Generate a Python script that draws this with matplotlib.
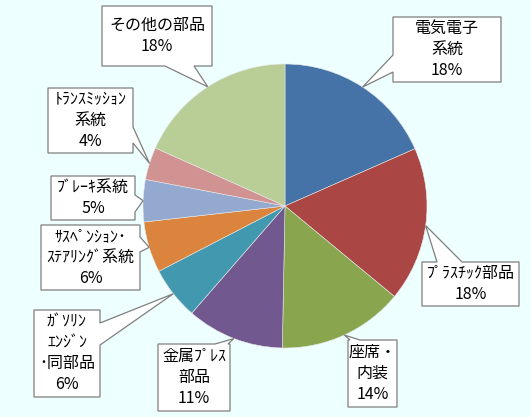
import numpy as np
import matplotlib.pyplot as plt
from matplotlib.patches import Polygon

plt.rcParams['font.family'] = ['Noto Sans CJK JP', 'DejaVu Sans']

# data
labels = ['電気電子\n系統', 'ﾌﾟﾗｽﾁｯｸ部品', '座席・\n内装', '金属ﾌﾟﾚｽ\n部品',
          'ｶﾞｿﾘﾝ\nｴﾝｼﾞﾝ\n･同部品', 'ｻｽﾍﾟﾝｼｮﾝ･\nｽﾃｱﾘﾝｸﾞ系統', 'ﾌﾞﾚｰｷ系統',
          'ﾄﾗﾝｽﾐｯｼｮﾝ\n系統', 'その他の部品']
shares = [18.4, 17.6, 14.3, 11.1, 6.0, 5.8, 4.8, 3.7, 18.3]
colors = ['#4572A7', '#AA4643', '#89A54E', '#71588F', '#4198AF',
          '#DB843D', '#93A9CF', '#D19392', '#B9CD96']

W, H = 531, 417
bg = '#EEFFFF'

# callout boxes in pixel coords (x0, y0, x1, y1), side of pointer, base span
boxes = [
    ((393, 17, 501, 82), 'left', (55, 72)),
    ((422, 262, 519, 306), 'top', (437, 462)),
    ((348, 340, 397, 407), 'top', (350, 360)),
    ((158, 344, 230, 411), 'top', (215, 228)),
    ((34, 310, 100, 397), 'right', (323, 345)),
    ((41, 225, 140, 290), 'right', (237, 252)),
    ((51, 176, 135, 220), 'right', (195, 212)),
    ((48, 88, 133, 153), 'right', (127, 143)),
    ((102, 6, 212, 66), 'bottom', (165, 194)),
]

fig = plt.figure(figsize=(W / 100, H / 100), dpi=100, facecolor=bg)
ax = fig.add_axes([0, 0, 1, 1])

cx, cy, r = 285, H - 206, 142
wedges, _ = ax.pie(shares, colors=colors, startangle=90, counterclock=False,
                   center=(cx, cy), radius=r, frame=True,
                   wedgeprops=dict(edgecolor='#E8E8E8', linewidth=0.4))
ax.set_xlim(0, W)
ax.set_ylim(0, H)
ax.set_aspect('equal')
ax.axis('off')

def flip(p):
    return (p[0], H - p[1])

for w, lab, val, (box, side, base) in zip(wedges, labels, shares, boxes):
    mid = np.deg2rad((w.theta1 + w.theta2) / 2)
    tip = (cx + r * np.cos(mid), cy + r * np.sin(mid))
    x0, y0, x1, y1 = box
    tl, tr, br, bl = (x0, y0), (x1, y0), (x1, y1), (x0, y1)
    b0, b1 = base
    if side == 'top':
        pts = [tl, (b0, y0), None, (b1, y0), tr, br, bl]
    elif side == 'right':
        pts = [tl, tr, (x1, b0), None, (x1, b1), br, bl]
    elif side == 'bottom':
        pts = [tl, tr, br, (b1, y1), None, (b0, y1), bl]
    else:
        pts = [tl, tr, br, bl, (x0, b1), None, (x0, b0)]
    pts = [tip if p is None else flip(p) for p in pts]
    ax.add_patch(Polygon(pts, closed=True, facecolor='white',
                         edgecolor='#7F7F7F', linewidth=0.9, zorder=3))
    ax.text((x0 + x1) / 2, H - (y0 + y1) / 2, f'{lab}\n{round(val)}%',
            ha='center', va='center', fontsize=11.5, linespacing=1.3,
            color='black', zorder=4)

fig.savefig('out.png', dpi=100, facecolor=bg)
